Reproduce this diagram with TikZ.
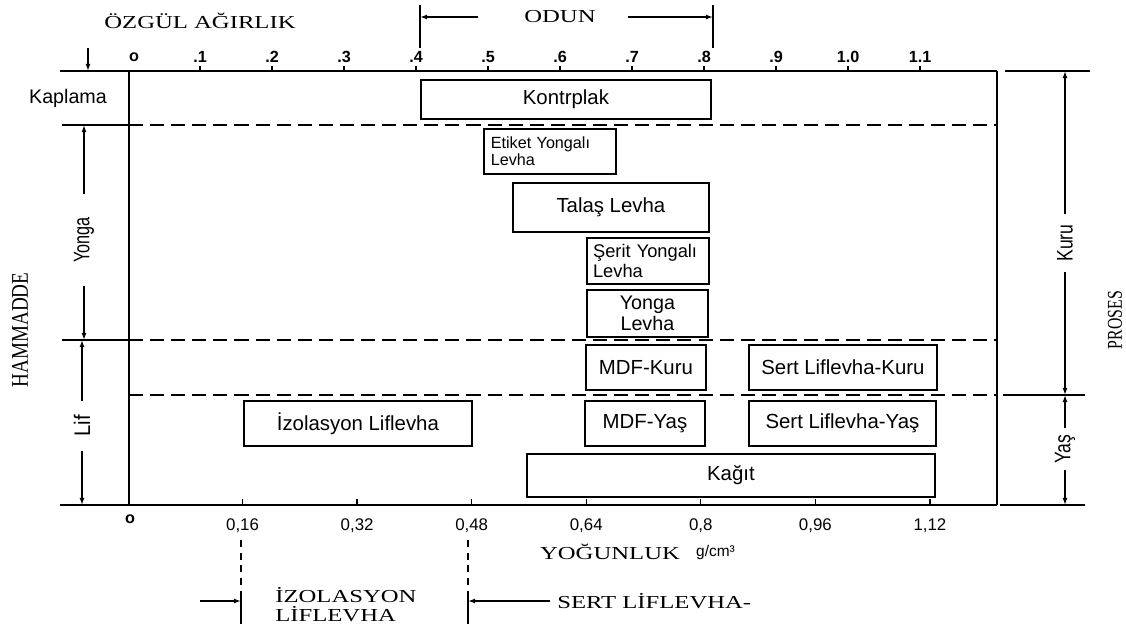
\documentclass[tikz,border=0pt]{standalone}
\usepackage{fontspec}
\usepackage{graphicx}
\setmainfont{Liberation Serif}
\setsansfont{Liberation Sans}
\usetikzlibrary{arrows.meta}
\newcommand{\daryazi}[2][0.72]{\scalebox{#1}[1]{#2}}
\newcommand{\genisyazi}[1]{\scalebox{1.35}[1]{#1}}
\tikzset{
  kutu/.style 2 args={draw, line width=1.3pt, anchor=north west, inner sep=3pt,
    minimum width={#1*0.025cm}, minimum height={#2*0.025cm},
    font=\sffamily\fontsize{14.5}{16}\selectfont},
  bolge/.style={dash pattern=on 10pt off 5pt, line width=1pt},
  olcu/.style={line width=0.9pt, -{Latex[length=5pt,width=3.5pt]}},
  yanyazi/.style={rotate=90, font=\sffamily\fontsize{16}{18}\selectfont},
  baslik/.style={font=\rmfamily\fontsize{13}{15}\selectfont},
  ustsayi/.style={font=\sffamily\bfseries\fontsize{11.5}{13}\selectfont},
  altsayi/.style={font=\sffamily\fontsize{12}{14}\selectfont}
}
\begin{document}
\begin{tikzpicture}[x=0.025cm, y=-0.025cm, line width=0.9pt]
  \useasboundingbox[fill=white] (0,0) rectangle (1126,630);
  % cerceve ve eksenler
  \draw[line width=1.5pt] (60,71) -- (997,71);
  \draw[line width=1.5pt] (60,505) -- (997,505);
  \draw[line width=1.5pt] (129,71) -- (129,505);
  \draw[line width=1.5pt] (997,71) -- (997,505);
  \draw[line width=1.2pt] (1005,71) -- (1090,71);
  \draw[line width=1.2pt] (1003,395) -- (1085,395);
  \draw[line width=1.2pt] (1000,505) -- (1085,505);
  % ozgul agirlik ekseni
  \node[ustsayi] (ustsifir) at (134,57) {o};
  \foreach \v/\t [count=\i] in {0.1/.1, 0.2/.2, 0.3/.3, 0.4/.4, 0.5/.5, 0.6/.6,
      0.7/.7, 0.8/.8, 0.9/.9, 1.0/1.0, 1.1/1.1} {
    \draw (128+720*\v,71) -- ++(0,-5);
    \node[ustsayi] (ust\i) at (128+720*\v,57) {\t};
  }
  % yogunluk ekseni
  \node[ustsayi] (altsifir) at (130,519) {o};
  \foreach \d/\t [count=\i] in {0.16/{0,16}, 0.32/{0,32}, 0.48/{0,48}, 0.64/{0,64},
      0.8/{0,8}, 0.96/{0,96}, 1.12/{1,12}} {
    \draw (128+716*\d,505) -- ++(0,-6);
    \node[altsayi] (alt\i) at (128+716*\d,526) {\t};
  }
  % bolge sinirlari
  \draw[line width=1.2pt] (62,125) -- (129,125);
  \draw[bolge] (129,125) -- (997,125);
  \draw[line width=1.2pt] (62,340) -- (129,340);
  \draw[bolge] (129,340) -- (997,340);
  \draw[bolge] (129,395) -- (997,395);
  % sol: hammadde
  \node[font=\sffamily\fontsize{14}{16}\selectfont] (kaplama) at (68,98) {Kaplama};
  \draw[olcu] (88,48) -- (88,71);
  \coordinate (yongaust) at (84,125);
  \coordinate (yongaalt) at (84,340);
  \coordinate (lifust) at (82,340);
  \coordinate (lifalt) at (82,505);
  \node[yanyazi, inner xsep=16pt] (yonga) at (84,240) {\daryazi{Yonga}};
  \node[yanyazi, inner xsep=10pt] (lif) at (82,426) {\daryazi[0.9]{Lif}};
  \draw[olcu] (yonga.east) -- (yongaust);
  \draw[olcu] (yonga.west) -- (yongaalt);
  \draw[olcu] (lif.east) -- (lifust);
  \draw[olcu] (lif.west) -- (lifalt);
  \node[rotate=90, font=\rmfamily\fontsize{17}{19}\selectfont] (hammadde) at (20,330) {\daryazi[0.8]{HAMMADDE}};
  % sag: proses
  \coordinate (kuruust) at (1065,71);
  \coordinate (kurualt) at (1065,395);
  \coordinate (yasust) at (1065,395);
  \coordinate (yasalt) at (1065,505);
  \node[yanyazi, inner xsep=7pt] (kuru) at (1065,243) {\daryazi[0.78]{Kuru}};
  \node[yanyazi, inner xsep=4pt] (yas) at (1065,449) {\daryazi[0.78]{Yaş}};
  \draw[olcu] (kuru.east) -- (kuruust);
  \draw[olcu] (kuru.west) -- (kurualt);
  \draw[olcu] (yas.east) -- (yasust);
  \draw[olcu] (yas.west) -- (yasalt);
  \node[rotate=90, font=\rmfamily\fontsize{15}{17}\selectfont] (proses) at (1115,320) {\daryazi[0.75]{PROSES}};
  % urunler
  \node[kutu={290}{39}] (kontrplak) at (420,79) {Kontrplak};
  \node[kutu={132}{45}, font=\sffamily\fontsize{11.5}{12.5}\selectfont,
        text width=84pt, align=left] (etiket) at (483,128) {Etiket Yongalı\\Levha};
  \node[kutu={196}{49}] (talas) at (512,182) {Talaş Levha};
  \node[kutu={122}{46}, font=\sffamily\fontsize{13}{14}\selectfont,
        text width=78pt, align=left] (serit) at (586,237) {Şerit Yongalı\\Levha};
  \node[kutu={121}{47}, font=\sffamily\fontsize{14}{15}\selectfont,
        align=center] (yongalevha) at (586,289) {Yonga\\Levha};
  \node[kutu={120}{45}] (mdfkuru) at (585,344) {MDF-Kuru};
  \node[kutu={188}{45}] (sertkuru) at (748,344) {Sert Liflevha-Kuru};
  \node[kutu={228}{45}] (izolasyon) at (243,400) {İzolasyon Liflevha};
  \node[kutu={120}{45}] (mdfyas) at (584,400) {MDF-Yaş};
  \node[kutu={187}{45}] (sertyas) at (748,400) {Sert Liflevha-Yaş};
  \node[kutu={408}{43}] (kagit) at (526,453) {Kağıt};
  % ust basliklar
  \node[baslik] (ozgul) at (200,21) {\genisyazi{ÖZGÜL AĞIRLIK}};
  \node[baslik] (odun) at (560,17) {\genisyazi{ODUN}};
  \draw (420,5) -- (420,48);
  \draw (713,5) -- (713,48);
  \coordinate (odunsolbas) at (478,17);
  \coordinate (odunsol) at (420,17);
  \coordinate (odunsagbas) at (628,17);
  \coordinate (odunsag) at (713,17);
  \draw[olcu] (odunsolbas) -- (odunsol);
  \draw[olcu] (odunsagbas) -- (odunsag);
  % alt basliklar
  \node[baslik] (yogunluk) at (610,552) {\genisyazi{YOĞUNLUK}};
  \node[font=\sffamily\fontsize{11}{13}\selectfont, anchor=west] (birim) at ([xshift=4pt]yogunluk.east) {g/cm³};
  \draw[bolge, dash pattern=on 5pt off 4pt] (241,540) -- (241,592);
  \draw (241,592) -- (241,624);
  \draw[bolge, dash pattern=on 5pt off 4pt] (468,540) -- (468,592);
  \draw (468,592) -- (468,624);
  \coordinate (izosol) at (200,601);
  \coordinate (izosinir) at (241,601);
  \coordinate (sertsag) at (550,601);
  \coordinate (sertsinir) at (468,601);
  \draw[olcu] (izosol) -- (izosinir);
  \draw[olcu] (sertsag) -- (sertsinir);
  \node[baslik, anchor=west] (izoyazi) at (270,595) {\genisyazi{İZOLASYON}};
  \node[baslik, anchor=west] (lifyazi) at (270,614) {\genisyazi{LİFLEVHA}};
  \node[baslik, anchor=west] (sertyazi) at (552,601) {\genisyazi{SERT LİFLEVHA-}};
\end{tikzpicture}
\end{document}
